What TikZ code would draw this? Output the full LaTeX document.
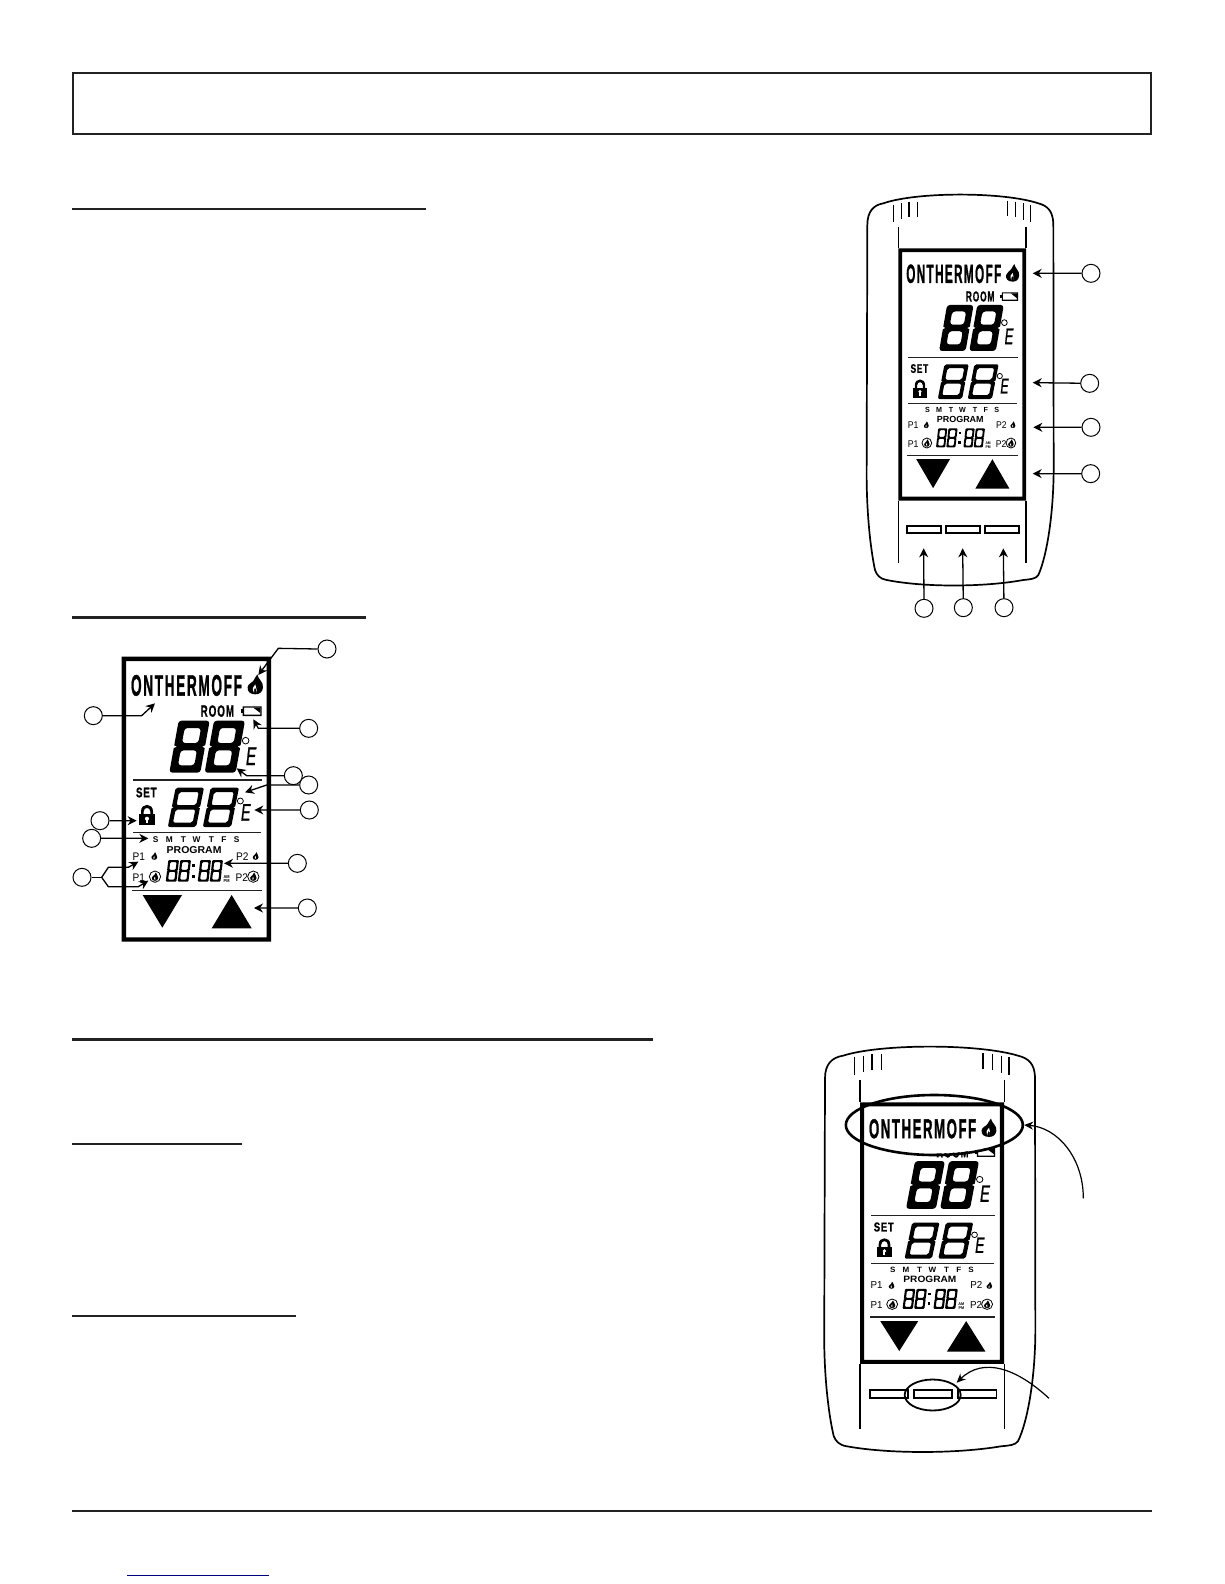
\documentclass[tikz,border=0pt]{standalone}
\usepackage{fontspec}
\setmainfont{Liberation Sans}
\usetikzlibrary{arrows.meta,shapes.geometric}
\newcounter{lcdn}
\definecolor{ink}{HTML}{222222}
\definecolor{linkblue}{HTML}{000080}
\tikzset{
  rulebar/.style={draw=ink,line width=2.2pt},
  lcdt/.style={inner sep=0pt,outer sep=0pt,transform shape},
  callout/.style={circle,draw,fill=white,minimum size=18pt,inner sep=0pt,line width=1pt},
  conn/.style={line width=1.3pt,-{Stealth[length=9pt,width=9pt]}},
  plainconn/.style={line width=1.3pt},
  curvearrow/.style={line width=1.2pt,-{Stealth[length=9pt,width=8pt]}},
  ring/.style={ellipse,draw,inner sep=0pt,line width=2.6pt},
  devline/.style={line width=1.7pt},
  thinline/.style={line width=1.2pt}
}
\newcommand\lcdtext[5]{\stepcounter{lcdn}%
  \begin{scope}[shift={(#1,#2)},xscale=#3]
    \node[lcdt,anchor=base west,font=\fontsize{#4}{#4}\selectfont] (lcd\thelcdn) at (0,0) {#5};
  \end{scope}}
\newcommand\lcdtextc[5]{\stepcounter{lcdn}%
  \begin{scope}[shift={(#1,#2)},xscale=#3]
    \node[lcdt,anchor=base,font=\fontsize{#4}{#4}\selectfont] (lcd\thelcdn) at (0,0) {#5};
  \end{scope}}
% x y w h t cornerradius slant
\newcommand\segeight[7]{%
  \begin{scope}[shift={(#1,#2)},xslant=#7]
    \pgfmathsetmacro\sW{#3}\pgfmathsetmacro\sH{#4}\pgfmathsetmacro\sT{#5}%
    \pgfmathsetmacro\sM{\sH/2}\pgfmathsetmacro\sQ{\sT/2}\pgfmathsetmacro\sN{\sT*.35}%
    \pgfmathsetmacro\sWT{\sW-\sT}\pgfmathsetmacro\sHT{\sH-\sT}%
    \fill[black,even odd rule,rounded corners=#6pt]
      (0,0) -- (\sW,0) -- (\sW,\sH) -- (0,\sH) -- cycle
      (\sT,\sT) -- (\sWT,\sT) -- (\sWT,\sM-\sQ) -- (\sT,\sM-\sQ) -- cycle
      (\sT,\sM+\sQ) -- (\sWT,\sM+\sQ) -- (\sWT,\sHT) -- (\sT,\sHT) -- cycle;
    \fill[white] (-\sN,\sM-\sN) -- (\sN,\sM) -- (-\sN,\sM+\sN) -- cycle
      (\sW+\sN,\sM-\sN) -- (\sW-\sN,\sM) -- (\sW+\sN,\sM+\sN) -- cycle;
  \end{scope}}
\newcommand\flame[3]{%
  \begin{scope}[shift={(#1,#2)},scale=#3]
    \fill[black] (6,-30) .. controls (8,-15) and (25,-8) .. (23,10) .. controls (21,24) and (12,30) .. (0,30)
      .. controls (-15,30) and (-25,22) .. (-23,8) .. controls (-22,-2) and (-9,-5) .. (-5,-12)
      .. controls (-3,-18) and (3,-24) .. (6,-30) -- cycle;
    \fill[white] (-4,25) .. controls (-12,12) and (-5,6) .. (0,0) .. controls (-1,8) and (7,14) .. (3,25)
      .. controls (5,16) and (1,13) .. (-1,10) .. controls (-4,14) and (-5,19) .. (-4,25) -- cycle;
  \end{scope}}
\newcommand\lcdpanel{%
  \fill[black,even odd rule] (155,80) rectangle (603,935) (168,93) rectangle (590,922);
  \lcdtext{183}{197}{.46}{89}{\bfseries\addfontfeature{LetterSpace=12,FakeBold=1.5}ONTHERMOFF}
  \flame{556}{163}{1}
  \lcdtext{392}{260}{.6}{49}{\bfseries\addfontfeature{LetterSpace=10,FakeBold=1}ROOM}
  \fill[black,even odd rule] (518,229) rectangle (575,258) (522,233) rectangle (571,254);
  \fill[black] (513,237) rectangle (518,250);
  \fill[black] (550,233) -- (571,233) -- (571,249) -- cycle;
  \segeight{326}{272}{93}{156}{22}{3}{.18}
  \segeight{432}{272}{93}{156}{22}{3}{.18}
  \draw[line width=.8pt,fill=white] (527,332) circle (10);
  \lcdtext{528}{405}{.6}{77}{\itshape\addfontfeature{FakeBold=1.2}E}
  \fill[ink] (190,448) rectangle (575,452);
  \lcdtext{198}{502}{.7}{42}{\bfseries\addfontfeature{LetterSpace=8,FakeBold=1}SET}
  \segeight{317}{473}{85}{118}{13}{2}{.2}
  \segeight{422}{473}{85}{118}{13}{2}{.2}
  \draw[line width=.8pt,fill=white] (511,513) circle (9);
  \lcdtext{513}{572}{.6}{72}{\itshape\addfontfeature{FakeBold=1.2}E}
  \fill[black] (213,556) -- (213,544) .. controls (213,518) and (249,518) .. (249,544) -- (249,556) -- (241,556) -- (241,545) .. controls (241,530) and (221,530) .. (221,545) -- (221,556) -- cycle;
  \fill[black] (207,553) rectangle (255,586);
  \fill[white] (231,566) circle (6);
  \fill[white] (228,566) rectangle (234,579);
  \fill[ink] (190,605) rectangle (572,609);
  \foreach \px/\pl in {257/S,298/M,340/T,380/W,424/T,462/F,500/S}{\lcdtextc{\px}{636}{1}{25}{\bfseries \pl}}
  \lcdtext{290}{670}{1.05}{30}{\bfseries PROGRAM}
  \lcdtext{188}{690}{.92}{33}{P1}
  \lcdtext{188}{755}{.92}{33}{P1}
  \lcdtext{498}{690}{.92}{33}{P2}
  \lcdtext{497}{755}{.92}{33}{P2}
  \flame{253}{678}{.38}
  \flame{557}{678}{.38}
  \draw[line width=.8pt] (255,740) circle (17);
  \flame{255}{740}{.42}
  \draw[line width=.8pt] (550,740) circle (17);
  \flame{550}{740}{.42}
  \segeight{295}{690}{32}{65}{6.5}{1}{.12}
  \segeight{331}{690}{32}{65}{6.5}{1}{.12}
  \segeight{391}{690}{32}{65}{6.5}{1}{.12}
  \segeight{427}{690}{32}{65}{6.5}{1}{.12}
  \fill[black] (367,702) rectangle (376,711);
  \fill[black] (365,734) rectangle (374,743);
  \lcdtextc{470}{745}{.9}{13}{\bfseries AM}
  \lcdtextc{470}{758}{.9}{13}{\bfseries PM}
  \fill[ink] (185,780) rectangle (576,784);
  \fill[black] (218,795) -- (336,795) -- (277,893) -- cycle;
  \fill[black] (425,895) -- (545,895) -- (485,795) -- cycle;
}
\newcommand\lcddevice{%
  \draw[devline] (52,135) .. controls (52,95) and (70,75) .. (100,70) .. controls (200,35) and (460,35) .. (565,70)
    .. controls (595,78) and (608,95) .. (610,130) -- (611,850) .. controls (612,1000) and (590,1130) .. (565,1185)
    .. controls (558,1197) and (540,1198) .. (520,1200) .. controls (400,1222) and (220,1222) .. (110,1200)
    .. controls (90,1197) and (80,1185) .. (75,1170) .. controls (60,1100) and (48,980) .. (50,850) -- cycle;
  \draw[thinline] (145,140) -- (145,205) (528,140) -- (528,205) (145,962) -- (145,1150) (528,962) -- (528,1150);
  \draw[thinline] (130,75) -- (130,125) (155,70) -- (155,118) (177,65) -- (177,112) (202,65) -- (202,112);
  \draw[thinline] (472,62) -- (472,108) (497,65) -- (497,112) (520,70) -- (520,120) (541,75) -- (541,125);
  \begin{scope}[shift={(145,205)},xscale=.855,yscale=.885,shift={(-155,-80)}]
    \lcdpanel
  \end{scope}
  \draw[devline] (172,1037) rectangle (272,1060) (289,1037) rectangle (389,1060) (406,1037) rectangle (508,1060);
}
\begin{document}
\begin{tikzpicture}[x=1pt,y=-1pt]
  \fill[white] (0,0) rectangle (1224,1584);
  \useasboundingbox (0,0) rectangle (1224,1584);
  \draw[draw=ink,line width=2pt] (73,73) rectangle (1151,134);
  \draw[rulebar] (72,209) -- (426,209);
  \draw[rulebar] (72,617.5) -- (366,617.5);
  \draw[rulebar,line width=3pt] (72,1039) -- (653,1039);
  \draw[rulebar] (72,1144) -- (242,1144);
  \draw[rulebar] (72,1316) -- (296,1316);
  \draw[rulebar] (72,1511) -- (1152,1511);
  \draw[draw=linkblue,line width=1pt] (127,1575) -- (269,1575);

  \begin{scope}[shift={(850,180)},scale=.33333]
    \lcddevice
    \node[callout] (r1) at (723,280) {};
    \node[callout] (r2) at (719,610) {};
    \node[callout] (r3) at (723,742) {};
    \node[callout] (r4) at (722,881) {};
    \node[callout] (b1) at (222,1285) {};
    \node[callout] (b2) at (340,1283) {};
    \node[callout] (b3) at (462,1283) {};
    \coordinate (tr1) at (548,280);
    \coordinate (tr2) at (548,608);
    \coordinate (tr3) at (550,742);
    \coordinate (tr4) at (548,881);
    \coordinate (tb1) at (221,1105);
    \coordinate (tb2) at (338,1105);
    \coordinate (tb3) at (460,1105);
    \draw[conn] (r1) -- (tr1);
    \draw[conn] (r2) -- (tr2);
    \draw[conn] (r3) -- (tr3);
    \draw[conn] (r4) -- (tr4);
    \draw[conn] (b1) -- (tb1);
    \draw[conn] (b2) -- (tb2);
    \draw[conn] (b3) -- (tb3);
  \end{scope}

  \begin{scope}[shift={(70,630)},scale=.33333]
    \lcdpanel
    \node[callout] (a) at (771,57) {};
    \node[callout] (b) at (70,257) {};
    \node[callout] (c) at (716,295) {};
    \node[callout] (d) at (670,437) {};
    \node[callout] (e) at (716,465) {};
    \node[callout] (f) at (718,540) {};
    \node[callout] (g) at (90,572) {};
    \node[callout] (h) at (65,625) {};
    \node[callout] (i) at (36,742) {};
    \node[callout] (j) at (682,700) {};
    \node[callout] (k) at (712,834) {};
    \coordinate (ab) at (625,55);   \coordinate (at) at (565,135);
    \coordinate (bb) at (215,257);  \coordinate (bt) at (255,220);
    \coordinate (cb) at (565,295);  \coordinate (ct) at (550,268);
    \coordinate (db) at (530,437);  \coordinate (dt) at (500,415);
    \coordinate (eb) at (590,465);  \coordinate (et) at (525,487);
    \coordinate (ft) at (553,540);
    \coordinate (gt) at (200,572);
    \coordinate (ht) at (235,625);
    \coordinate (fk) at (95,742);
    \coordinate (ib) at (115,712);  \coordinate (ic) at (175,712);  \coordinate (it) at (205,695);
    \coordinate (id) at (115,770);  \coordinate (ie) at (205,770);  \coordinate (iu) at (235,752);
    \coordinate (jt) at (462,700);
    \coordinate (kt) at (552,834);
    \draw[conn] (a.west) -- (ab) -- (at);
    \draw[conn] (b.east) -- (bb) -- (bt);
    \draw[conn] (c.west) -- (cb) -- (ct);
    \draw[conn] (d.west) -- (db) -- (dt);
    \draw[conn] (e.west) -- (eb) -- (et);
    \draw[conn] (f) -- (ft);
    \draw[conn] (g) -- (gt);
    \draw[conn] (h) -- (ht);
    \draw[plainconn] (i.east) -- (fk);
    \draw[conn] (fk) -- (ib) -- (ic) -- (it);
    \draw[conn] (fk) -- (id) -- (ie) -- (iu);
    \draw[conn] (j) -- (jt);
    \draw[conn] (k) -- (kt);
  \end{scope}

  \begin{scope}[shift={(810,1040)},scale=.33333]
    \begin{scope}[shift={(45,18)},xscale=1.129,yscale=1.037,shift={(-52,-42)}]
      \lcddevice
    \end{scope}
    \begin{scope}
      \clip (373,255) ellipse [x radius=265,y radius=85];
      \fill[white] (375,298) rectangle (560,350);
    \end{scope}
    \node[ring,minimum width=177pt,minimum height=60pt] (ring1) at (373,255) {};
    \node[ring,line width=1.8pt,minimum width=56pt,minimum height=31pt] (ring2) at (368,1065) {};
    \coordinate (s1) at (820,475);
    \coordinate (s2) at (717,1075);
    \coordinate (t2) at (440,1028);
    \draw[curvearrow] (s1) .. controls (820,350) and (740,262) .. (ring1.east);
    \draw[curvearrow] (s2) .. controls (620,985) and (520,950) .. (t2);
  \end{scope}
\end{tikzpicture}
\end{document}
